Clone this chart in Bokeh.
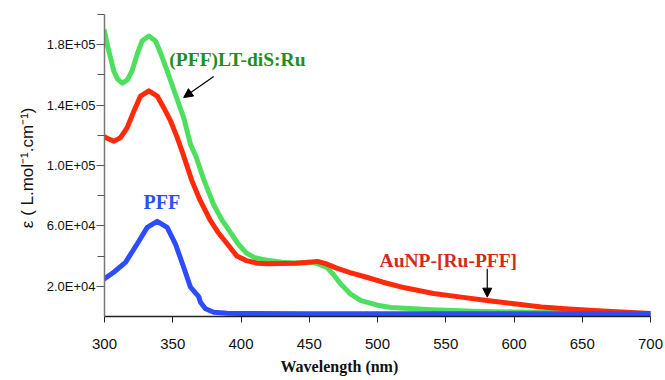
from bokeh.plotting import figure
from bokeh.models import FixedTicker, Arrow, NormalHead, Label, Title
from bokeh.embed import file_html
from bokeh.resources import INLINE

# ---- data ----
green_nm = [300, 302, 304.4, 306.8, 309.7, 313, 316.6, 320.2, 323.9, 327.5, 332.5, 337.4,
            341, 345.9, 352, 358, 363, 367, 373, 380, 386, 392, 398, 404, 410, 418,
            430, 440, 450, 456, 463, 468, 473, 480, 488, 500, 510, 540, 570, 600, 650, 700]
green_eps = [189e3, 180e3, 171.5e3, 162.6e3, 157e3, 154.5e3, 156.5e3, 162.6e3, 173.6e3,
             182.4e3, 185.7e3, 182.4e3, 174.7e3, 162.6e3, 147e3, 131.7e3, 114e3, 106e3,
             90e3, 74e3, 64e3, 56e3, 48e3, 42e3, 39e3, 37.5e3, 36e3, 35.5e3, 36e3, 35e3,
             32.5e3, 27.5e3, 21.6e3, 15e3, 10.5e3, 7.5e3, 6e3, 4.5e3, 3.5e3, 3e3, 2.5e3, 2e3]

red_nm = [300, 302, 306.8, 311.7, 316.6, 321.5, 326.4, 332.5, 338.6, 343.4, 348.4, 353.3,
          357, 364, 370, 377.7, 383, 390, 397, 404, 412, 420, 440, 450, 456, 462, 470,
          480, 492, 504, 520, 541, 560, 580, 600, 620, 640, 668, 700]
red_eps = [119e3, 118e3, 116e3, 118.5e3, 125e3, 136e3, 146e3, 149.4e3, 146e3, 138.3e3,
           129.5e3, 118.5e3, 109e3, 90e3, 77e3, 63.4e3, 56e3, 48e3, 40e3, 37e3, 35.3e3,
           35e3, 35.3e3, 36e3, 36.5e3, 35e3, 32e3, 29e3, 26e3, 22.7e3, 19e3, 15.2e3, 13e3,
           10.6e3, 8.5e3, 6.3e3, 5e3, 3.5e3, 2e3]

blue_nm = [300, 306.8, 315.4, 323.9, 331.3, 338.6, 345.9, 352, 358, 363, 369, 370.3, 374,
           380, 390, 400, 450, 500, 600, 700]
blue_eps = [25e3, 29.3e3, 35.9e3, 48e3, 59e3, 63e3, 59e3, 48e3, 32.6e3, 19.4e3, 13.2e3,
            9.5e3, 5.1e3, 2.8e3, 2.2e3, 2e3, 1.8e3, 1.8e3, 1.8e3, 1.8e3]

y_major = [20000, 60000, 100000, 140000, 180000]
y_minor = [40000, 80000, 120000, 160000, 200000]
y_labels = ["2.0E+04", "6.0E+04", "1.0E+05", "1.4E+05", "1.8E+05"]
x_major = [300, 350, 400, 450, 500, 550, 600, 650, 700]

GREEN = "#4fdf5e"
RED = "#ff2a0c"
BLUE = "#2d4cff"

p = figure(width=665, height=380, x_range=(300, 700), y_range=(0, 200000),
           output_backend="svg", toolbar_location=None,
           min_border_left=104, min_border_right=15, min_border_top=14, min_border_bottom=64)
p.outline_line_color = None
p.xgrid.visible = False
p.ygrid.visible = False
p.background_fill_color = "white"
p.border_fill_color = "white"

p.line(green_nm, green_eps, line_width=5, color=GREEN, line_join="round", line_cap="round")
p.line(red_nm, red_eps, line_width=5, color=RED, line_join="round", line_cap="round")
p.line(blue_nm, blue_eps, line_width=5, color=BLUE, line_join="round", line_cap="round")

# axes
xa = p.xaxis[0]
xa.ticker = FixedTicker(ticks=x_major, minor_ticks=[])
xa.major_tick_out = 6
xa.major_tick_in = 0
xa.minor_tick_out = 0
xa.minor_tick_in = 0
xa.major_label_standoff = 16
xa.major_label_text_font = "Liberation Sans"
xa.major_label_text_font_size = "15px"
xa.major_label_text_color = "#111111"
xa.axis_line_color = "#222222"
xa.axis_line_width = 1.5
xa.major_tick_line_color = "#222222"

ya = p.yaxis[0]
ya.ticker = FixedTicker(ticks=y_major, minor_ticks=y_minor)
ya.major_label_overrides = {v: s for v, s in zip(y_major, y_labels)}
ya.major_tick_out = 8
ya.major_tick_in = 0
ya.minor_tick_out = 7
ya.minor_tick_in = 0
ya.major_label_standoff = 1
ya.major_label_text_font = "Liberation Sans"
ya.major_label_text_font_size = "13px"
ya.major_label_text_color = "#111111"
ya.axis_line_color = "#777777"
ya.axis_line_width = 1.5
ya.major_tick_line_color = "#555555"
ya.minor_tick_line_color = "#555555"
ya.axis_label = "\u03b5  ( L.mol\u207b\u00b9.cm\u207b\u00b9)"
ya.axis_label_text_font = "Liberation Sans"
ya.axis_label_text_font_size = "17px"
ya.axis_label_text_font_style = "normal"
ya.axis_label_text_color = "#111111"
ya.axis_label_standoff = 7

# x axis title (sits left of centre in the reference)
p.add_layout(Title(text="Wavelength (nm)", align="left", offset=176, standoff=9,
                   text_font="Liberation Serif", text_font_size="16px",
                   text_font_style="bold", text_color="#111111"), "below")

# series annotations
p.add_layout(Label(x=347.5, y=170000, text="(PFF)LT-diS:Ru", text_align="left",
                   text_baseline="middle", text_font="Liberation Serif",
                   text_font_size="19.5px", text_font_style="bold", text_color="#1f8f22"))
p.add_layout(Label(x=501.5, y=37300, text="AuNP-[Ru-PFF]", text_align="left",
                   text_baseline="middle", text_font="Liberation Serif",
                   text_font_size="19.5px", text_font_style="bold", text_color="#d42a1c"))
p.add_layout(Label(x=328.6, y=75700, text="PFF", text_align="left",
                   text_baseline="middle", text_font="Liberation Serif",
                   text_font_size="20px", text_font_style="bold", text_color="#2b50f0"))

p.add_layout(Arrow(x_start=380, y_start=159000, x_end=358, y_end=145000,
                   line_color="black", line_width=1.2,
                   end=NormalHead(size=9, fill_color="black", line_color="black")))
p.add_layout(Arrow(x_start=580.4, y_start=31700, x_end=580.4, y_end=12800,
                   line_color="black", line_width=1.2,
                   end=NormalHead(size=9, fill_color="black", line_color="black")))

open("out.html", "w").write(file_html(p, INLINE))
